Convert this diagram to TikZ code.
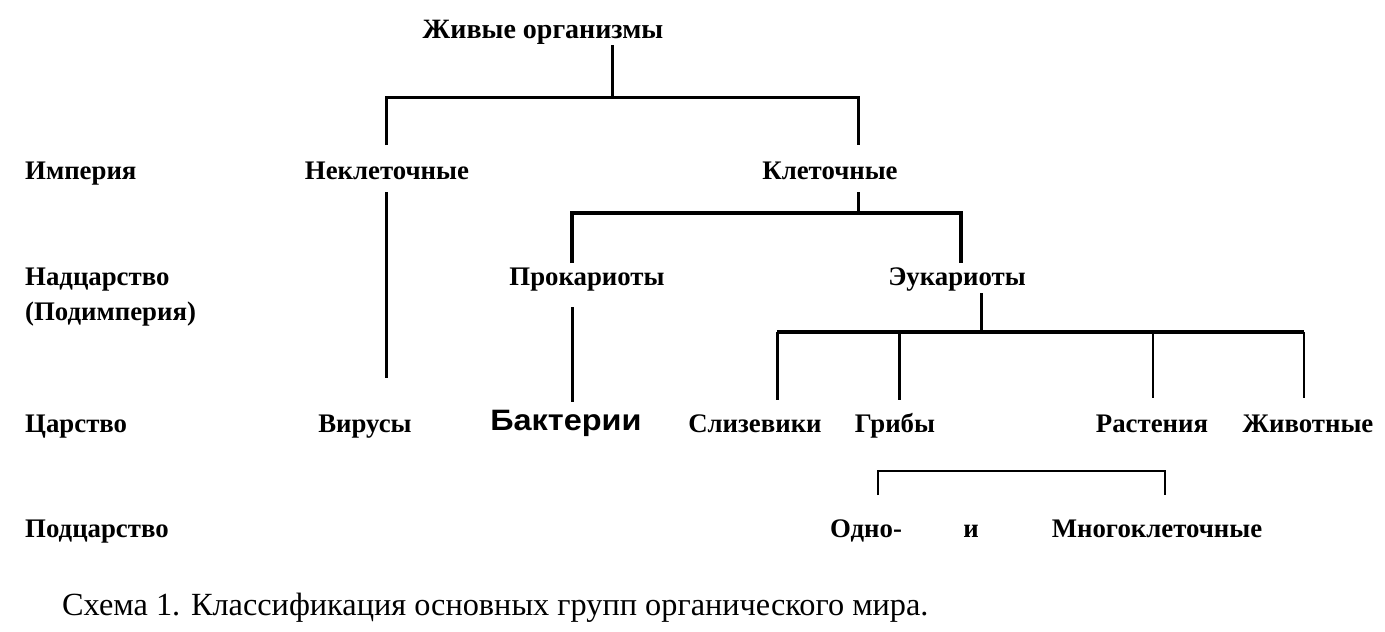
\documentclass[tikz,border=0pt]{standalone}
\usepackage{fontspec}
\setmainfont{Liberation Serif}
\newfontfamily\bakfont[FakeStretch=1.1]{Liberation Sans}
\begin{document}
\begin{tikzpicture}[x=1pt,y=-1pt,
  lbl/.style={font=\bfseries\fontsize{26.8}{28}\selectfont, anchor=base, inner sep=0pt},
  rank/.style={lbl, anchor=base west},
  ln/.style={line width=3pt},
  lnthick/.style={line width=4pt},
  lnthin/.style={line width=2pt}]
\useasboundingbox[fill=white] (0,0) rectangle (1385,632);
% title
\node[lbl, font=\bfseries\fontsize{28}{30}\selectfont] (root) at (543,38) {Живые организмы};
% rank labels
\node[rank] (r1) at (25,179) {Империя};
\node[rank] (r2) at (25,285) {Надцарство};
\node[rank] (r2b) at (25,320) {(Подимперия)};
\node[rank] (r3) at (25,432) {Царство};
\node[rank] (r4) at (25,537) {Подцарство};
% taxa
\node[lbl] (nekl) at (387,179) {Неклеточные};
\node[lbl] (klet) at (830,179) {Клеточные};
\node[lbl] (prok) at (587,285) {Прокариоты};
\node[lbl] (euk) at (957,285) {Эукариоты};
\node[lbl] (vir) at (365,432) {Вирусы};
\node[lbl, font=\bakfont\bfseries\fontsize{29.5}{31}\selectfont] (bak) at (566,430) {Бактерии};
\node[lbl] (sliz) at (755,432) {Слизевики};
\node[lbl] (grib) at (895,432) {Грибы};
\node[lbl] (rast) at (1152,432) {Растения};
\node[lbl] (zhiv) at (1308,432) {Животные};
\node[lbl] (odno) at (866,537) {Одно-};
\node[lbl] (i) at (971,537) {и};
\node[lbl] (mnogo) at (1157,537) {Многоклеточные};
\node[font=\fontsize{32.3}{34}\selectfont, anchor=base west, inner sep=0pt] (cap) at (62,615) {Схема 1. Классификация основных групп органического мира.};
% junction coordinates
\coordinate (a0) at (612,45);
\coordinate (a1) at (612,97);
\coordinate (aL) at (386,97);
\coordinate (aR) at (858,97);
\coordinate (aLd) at (386,145);
\coordinate (aRd) at (858,145);
\coordinate (n0) at (386,192);
\coordinate (n1) at (386,378);
\coordinate (k0) at (858,192);
\coordinate (k1) at (858,213);
\coordinate (kL) at (572,213);
\coordinate (kR) at (961,213);
\coordinate (kLd) at (572,263);
\coordinate (kRd) at (961,263);
\coordinate (p0) at (572,307);
\coordinate (p1) at (572,402);
\coordinate (e0) at (981,293);
\coordinate (e1) at (981,332);
\coordinate (eL) at (777,332);
\coordinate (eR) at (1304,332);
\coordinate (e2) at (899,332);
\coordinate (e3) at (1153,332);
\coordinate (eLd) at (777,400);
\coordinate (e2d) at (899,400);
\coordinate (e3d) at (1153,398);
\coordinate (eRd) at (1304,398);
\coordinate (bL) at (878,495);
\coordinate (bR) at (1165,495);
% connectors
\draw[ln] (a0) -- (a1);
\draw[ln] (aLd) -- (aL) -- (aR) -- (aRd);
\draw[ln] (n0) -- (n1);
\draw[ln] (k0) -- (k1);
\draw[lnthick] (kLd) -- (kL) -- (kR) -- (kRd);
\draw[ln] (p0) -- (p1);
\draw[ln] (e0) -- (e1);
\draw[lnthick] (eL) -- (eR);
\draw[ln] (eL) -- (eLd);
\draw[ln] (e2) -- (e2d);
\draw[lnthin] (e3) -- (e3d);
\draw[lnthin] (eR) -- (eRd);
\draw[lnthin] (bL) -- (878,471) -- (1165,471) -- (bR);
\end{tikzpicture}
\end{document}
